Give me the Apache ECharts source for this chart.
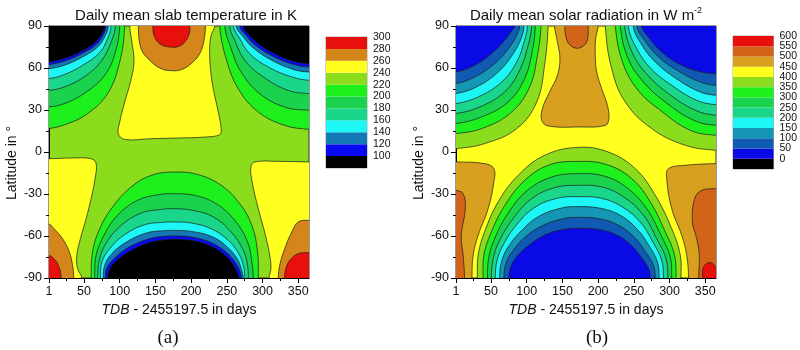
<!DOCTYPE html>
<html>
<head>
<meta charset="utf-8">
<script src="https://cdn.jsdelivr.net/npm/echarts@6/dist/echarts.min.js"></script>
<style>
html, body { margin: 0; padding: 0; background: #fff; }
#main { width: 800px; height: 350px; }
</style>
</head>
<body>
<div id="main"></div>
<script>
// axis ticks
var dayTicks = [1, 50, 100, 150, 200, 250, 300, 350];
var dayMinor = [25, 75, 125, 175, 225, 275, 325];

// (a) slab temperature in K: contour levels and fill colours (lowest band first)
var tempBounds = [100, 120, 140, 160, 180, 200, 220, 240, 260, 280, 300];
var tempColors = ['#000000', '#0a0af0', '#1478b4', '#1ef5f5', '#1ad68a', '#1ad24e', '#1ef01e', '#8cdc1e', '#ffff20', '#d4861a', '#e8100c'];

// contour lines, [day, latitude]; [level, line]
var tempColdNW = [
  [220, [[0,16.7],[27,20.2],[55,27.4],[83,41.7],[100,64.3],[107,90]]],
  [200, [[0,32.1],[22,34.5],[50,41.7],[79,54.8],[94,71.4],[100,90]]],
  [180, [[0,44],[22,46.4],[50,53.6],[74,64.8],[88,78.6],[94,90]]],
  [160, [[0,52.4],[22,55.2],[48,61.9],[72,71],[83,81],[88,90]]],
  [140, [[0,59.5],[22,61.9],[48,67.9],[69,75],[80,83.3],[84,90]]],
  [120, [[0,62.4],[22,64.8],[46,70],[67,76.7],[77,83.8],[81,90]]],
  [100, [[0,64.3],[22,66.7],[46,71.9],[65,78.1],[75,84.5],[79,90]]]
];
var tempColdNE = [
  [220, [[240,90],[249,66.7],[266,45.2],[294,28.6],[331,19],[365,16.2]]],
  [200, [[247,90],[256,73.8],[270,57.1],[296,41.7],[331,32.1],[365,29.8]]],
  [180, [[254,90],[262,78.6],[275,65.5],[301,53.6],[336,44],[365,41.7]]],
  [160, [[259,90],[268,81],[282,70.2],[308,60.7],[341,53.6],[365,51.2]]],
  [140, [[263,90],[272,82.9],[287,74.3],[313,65.5],[343,59],[365,57.1]]],
  [120, [[268,90],[277,83.3],[290,76.2],[315,68.3],[343,62.6],[365,60.7]]],
  [100, [[273,90],[281,83.8],[294,77.4],[317,70.2],[343,64.8],[365,63.1]]]
];
var tempColdS = [
  [220, [[60,-90],[62,-71.4],[72,-54.8],[90,-39.3],[116,-25],[144,-16.7],[177,-14.3],[210,-16.2],[242,-23.8],[268,-36.9],[285,-52.4],[293,-71.4],[294,-90]]],
  [200, [[65,-90],[67,-73.8],[78,-59.5],[97,-45.2],[125,-34.5],[154,-30.5],[177,-29.8],[205,-31],[235,-36.9],[261,-48.8],[279,-64.3],[285,-78.6],[287,-90]]],
  [180, [[69,-90],[72,-76.2],[82,-64.3],[102,-52.4],[130,-43.6],[158,-41],[177,-40.5],[203,-41.7],[231,-46.4],[256,-57.1],[273,-70.2],[279,-81],[280,-90]]],
  [160, [[73,-90],[75,-78.6],[86,-69],[107,-59],[135,-51.9],[161,-50.2],[177,-50],[200,-50.7],[228,-54.8],[252,-63.1],[268,-73.8],[274,-83.3],[275,-90]]],
  [140, [[77,-90],[79,-81],[89,-72.6],[111,-63.8],[139,-57.6],[163,-56.2],[177,-56],[200,-56.7],[228,-60.2],[249,-67.1],[265,-76.7],[271,-85.2],[273,-90]]],
  [120, [[80,-90],[82,-82.9],[93,-75.7],[115,-67.4],[142,-61.9],[163,-60.2],[177,-60],[200,-60.7],[226,-64.3],[247,-70.7],[262,-79],[269,-86.2],[270,-90]]],
  [100, [[83,-90],[86,-83.8],[96,-77.4],[118,-69.8],[144,-64.3],[165,-62.6],[177,-62.4],[200,-63.1],[225,-66.7],[245,-72.6],[259,-80.5],[265,-86.9],[267,-90]]]
];
var tempWarmN = [
  [240, [[114,90],[117,78.6],[120,64.3],[115,50],[107,35.7],[100,21.4],[98,13.1],[107,9],[144,9.5],[182,10],[219,10.7],[240,12.4],[242,16.7],[238,28.6],[231,45.2],[227,59.5],[226,73.8],[228,83.3],[233,90]]],
  [260, [[126,90],[130,73.8],[142,65.5],[158,59.5],[172,58.1],[186,58.8],[200,63.1],[212,70.2],[218,79.8],[220,90]]],
  [280, [[146.5,90],[148,83.3],[156,77.4],[170,75],[184,75.7],[193,79.8],[198,85.7],[198,90]]]
];
var tempWarmSW = [
  [240, [[0,-4.8],[32,-4.3],[60,-4.8],[67,-8.3],[65.5,-19],[60,-33.3],[53,-47.6],[45,-61.9],[40,-73.8],[41,-83.3],[47,-90]]],
  [260, [[0,-51.2],[8,-54.8],[20,-61.9],[29.5,-71.4],[34,-81],[35.6,-90]]],
  [280, [[0,-73.8],[8,-76.2],[15,-82.1],[18,-90]]]
];
var tempWarmSE = [
  [240, [[365,-7.1],[322,-6.7],[289,-7.1],[283.6,-10.7],[285.4,-21.4],[294,-40.5],[304,-59.5],[310,-73.8],[311.7,-83.3],[309,-90]]],
  [260, [[365,-48.8],[350,-50],[341,-57.1],[331,-69],[324,-81],[322,-90]]],
  [280, [[365,-71.9],[350,-72.6],[338,-77.4],[332,-84.5],[331,-90]]]
];

// (b) solar radiation in W m-2
var solarBounds = [0, 50, 100, 150, 200, 250, 300, 350, 400, 450, 500, 550, 600];
var solarColors = ['#000000', '#0a0ae6', '#105ab4', '#1496b4', '#1ef5f5', '#1ad68a', '#1ad24e', '#1ef01e', '#8cdc1e', '#ffff20', '#d8a01e', '#d2641a', '#e8100c'];

var solarColdNW = [
  [400, [[0,2.4],[41,6],[86,16.7],[114,35.7],[125,61.9],[130,90]]],
  [350, [[0,13.1],[39,17.1],[79,28.6],[104,46.4],[115,69],[120,90]]],
  [300, [[0,20.2],[36.5,25],[74,35.7],[97,52.4],[108,72.6],[112,90]]],
  [250, [[0,27.4],[34,32.1],[69,42.9],[90,58.3],[102,76.2],[107,90]]],
  [200, [[0,34.5],[32,39.3],[65,50],[86,64.3],[97,79.8],[101,90]]],
  [150, [[0,41.7],[29.5,46.4],[60,57.1],[81,70.2],[93,82.1],[96,90]]],
  [100, [[0,48.8],[27,53.6],[55,63.1],[76,75],[87,84.5],[90,90]]],
  [50, [[0,57.1],[27,61.9],[50.5,70.2],[69,79.8],[79.6,86.9],[83,90]]]
];
var solarColdNE = [
  [400, [[210,90],[219,59.5],[238,35.7],[275,16.7],[322,4.8],[365,1.2]]],
  [350, [[224,90],[235,63.1],[256,44],[287,29.8],[329,15.5],[365,11.9]]],
  [300, [[231,90],[242,66.7],[263.5,50],[294,35.7],[334,22.6],[365,19]]],
  [250, [[237,90],[248.5,70.2],[269.5,54.8],[298.5,41.7],[336,29.8],[365,26.2]]],
  [200, [[242,90],[254,73.8],[274,59.5],[303,47.6],[338,36.9],[365,33.8]]],
  [150, [[249,90],[260,77.4],[280,64.3],[308,52.9],[341,43.3],[365,40.5]]],
  [100, [[254,90],[265,79.8],[284.5,67.9],[313,57.6],[343,50],[365,47.6]]],
  [50, [[261,90],[270.5,82.1],[289,71.4],[317,61.9],[345,57.1],[365,56]]]
];
var solarColdS = [
  [400, [[31,-90],[32,-73.8],[41,-57.1],[60,-35.7],[88,-16.7],[125,-2.4],[172,3.3],[214,0],[252,-11.9],[280,-31],[303,-54.8],[315,-73.8],[316,-90]]],
  [350, [[39,-90],[40,-73.8],[49.6,-58.3],[68,-39.3],[95,-21.4],[130,-9.5],[172,-6.7],[212,-9],[247,-19],[273,-35.7],[294,-57.1],[307,-73.8],[309,-90]]],
  [300, [[45,-90],[47,-75],[56,-60.7],[75,-42.9],[101,-27.4],[135,-17.9],[172,-15.5],[210,-17.4],[242,-26.2],[268,-40.5],[288,-59.5],[301,-75],[303,-90]]],
  [250, [[50.5,-90],[53,-76.2],[62,-63.1],[81,-47.6],[107,-33.3],[139,-25.5],[172,-23.8],[207,-25.2],[238,-32.9],[263.5,-45.2],[282,-61.9],[295,-76.2],[297.6,-90]]],
  [200, [[56,-90],[58.5,-77.4],[68,-65.5],[87,-51.2],[112,-39.3],[144,-32.9],[172,-31.9],[205,-33.1],[234,-39.3],[259,-50],[276.6,-64.3],[289,-77.4],[291.5,-90]]],
  [150, [[62,-90],[64.6,-78.6],[74,-67.9],[93,-56],[118,-45.7],[149,-40],[172,-39],[203,-40.2],[231,-45.2],[254,-54.8],[271,-66.7],[283,-78.6],[285.4,-90]]],
  [100, [[68,-90],[70.7,-79.8],[80,-71],[98,-60.7],[123,-52.4],[151,-47.6],[172,-46.7],[200,-47.6],[227,-51.9],[249,-60],[266,-71],[277.5,-81],[280,-90]]],
  [50, [[75,-90],[77.7,-82.1],[87,-74.3],[106,-65.5],[130,-58.3],[156,-55],[172,-54.5],[198,-55.2],[224,-58.8],[245,-66],[260,-75],[270.5,-83.3],[273,-90]]]
];
var solarWarmN = [
  [450, [[139,90],[143,78.6],[146.5,66.7],[143,54.8],[132,42.9],[122,31],[121,22.6],[130,18.6],[172,17.9],[210,19],[215,23.8],[213,33.3],[205,45.2],[198,57.1],[196,69],[196.5,81],[200,90]]],
  [500, [[153.5,90],[154.4,83.3],[159,77.4],[167.5,74.3],[177,75],[184,78.6],[186,84.5],[186,90]]]
];
var solarWarmSW = [
  [450, [[0,-7.1],[41,-8.3],[54,-11.9],[54,-21.4],[46,-40.5],[32,-59.5],[25,-73.8],[23.4,-90]]],
  [500, [[0,-27.4],[11,-29.8],[14,-40.5],[8.4,-59.5],[11,-73.8],[13,-90]]]
];
var solarWarmSE = [
  [450, [[365,-8.3],[322,-9.5],[298.5,-11.9],[296,-19],[303,-40.5],[317,-59.5],[324,-73.8],[326.6,-90]]],
  [500, [[365,-26.2],[345,-27.4],[335,-33.3],[332,-50],[338,-61.9],[341.6,-73.8],[340.7,-90]]],
  [550, [[365,-83.3],[363,-81],[357,-79],[350,-80.5],[346.3,-84.5],[346.3,-90]]]
];

var FONT = 'Liberation Sans';

// extend a contour line past the plot edges so the filled region closes off-screen
function closeRegion(c, kind) {
  var a = c[0], b = c[c.length - 1];
  var L = -25, R = 390, T = 115, B = -115;
  if (kind === 'NW') return [[L, a[1]]].concat(c, [[b[0], T], [L, T]]);
  if (kind === 'NE') return [[a[0], T]].concat(c, [[R, b[1]], [R, T]]);
  if (kind === 'N') return [[a[0], T]].concat(c, [[b[0], T]]);
  if (kind === 'S') return [[a[0], B]].concat(c, [[b[0], B]]);
  if (kind === 'SW') return [[L, a[1]]].concat(c, [[b[0], B], [L, B]]);
  return [[R, a[1]]].concat(c, [[b[0], B], [R, B]]);
}

function buildRegions(bounds, colors, warm, cold) {
  var out = [];
  warm.forEach(function (g) {
    g[1].forEach(function (c) {
      out.push({ pts: closeRegion(c[1], g[0]), color: colors[bounds.indexOf(c[0]) + 1], mid: c[1][0] });
    });
  });
  cold.forEach(function (g) {
    g[1].forEach(function (c) {
      out.push({ pts: closeRegion(c[1], g[0]), color: colors[bounds.indexOf(c[0])], mid: c[1][0] });
    });
  });
  return out;
}

var tempRegions = buildRegions(tempBounds, tempColors,
  [['N', tempWarmN], ['SW', tempWarmSW], ['SE', tempWarmSE]],
  [['NW', tempColdNW], ['NE', tempColdNE], ['S', tempColdS]]);
var solarRegions = buildRegions(solarBounds, solarColors,
  [['N', solarWarmN], ['SW', solarWarmSW], ['SE', solarWarmSE]],
  [['NW', solarColdNW], ['NE', solarColdNE], ['S', solarColdS]]);

function contourSeries(regions, axisIndex) {
  return {
    type: 'custom',
    xAxisIndex: axisIndex,
    yAxisIndex: axisIndex,
    clip: true,
    silent: true,
    data: regions.map(function (r) { return r.mid; }),
    renderItem: function (params, api) {
      var r = regions[params.dataIndex];
      return {
        type: 'polygon',
        shape: { points: r.pts.map(function (p) { return api.coord(p); }), smooth: 0.4 },
        style: { fill: r.color, stroke: '#1a1a1a', lineWidth: 0.7 }
      };
    }
  };
}

function legendSeries(colors, xIndex, yIndex) {
  return {
    type: 'custom',
    xAxisIndex: xIndex,
    yAxisIndex: yIndex,
    silent: true,
    data: colors.map(function (c, i) { return [0.5, i + 0.5]; }),
    renderItem: function (params, api) {
      var i = params.dataIndex;
      var a = api.coord([0, i + 1]), b = api.coord([1, i]);
      return {
        type: 'rect',
        shape: { x: a[0], y: a[1], width: b[0] - a[0], height: b[1] - a[1] },
        style: { fill: colors[i] }
      };
    }
  };
}

function dayAxis(g) {
  return {
    gridIndex: g, type: 'value', min: 1, max: 365, position: 'bottom',
    name: '{i|TDB} - 2455197.5 in days', nameLocation: 'middle', nameGap: 17,
    nameTextStyle: { fontSize: 14, color: '#111', fontFamily: FONT,
      rich: { i: { fontStyle: 'italic', fontSize: 14, color: '#111', fontFamily: FONT } } },
    axisLine: { onZero: false, lineStyle: { color: '#000', width: 1 } },
    axisTick: { customValues: dayTicks, length: 5, lineStyle: { color: '#000' } },
    axisLabel: { customValues: dayTicks, margin: 7, fontSize: 12.5, color: '#111', fontFamily: FONT },
    splitLine: { show: false }
  };
}
function dayMinorAxis(g) {
  return {
    gridIndex: g, type: 'value', min: 1, max: 365, position: 'bottom',
    axisLine: { show: false, onZero: false },
    axisTick: { customValues: dayMinor, length: 3, lineStyle: { color: '#000' } },
    axisLabel: { show: false },
    splitLine: { show: false }
  };
}
function latAxis(g) {
  return {
    gridIndex: g, type: 'value', min: -90, max: 90, interval: 30,
    axisLine: { onZero: false, lineStyle: { color: '#000', width: 1 } },
    axisTick: { length: 5, lineStyle: { color: '#000' } },
    minorTick: { show: true, splitNumber: 2, length: 3, lineStyle: { color: '#000' } },
    axisLabel: { margin: 7, fontSize: 12.5, color: '#111', fontFamily: FONT },
    splitLine: { show: false }
  };
}
function hiddenLat(g) {
  return { gridIndex: g, type: 'value', min: -90, max: 90, show: false };
}
function legendX(g) {
  return { gridIndex: g, type: 'value', min: 0, max: 1, show: false };
}
// legend labels sit on box boundaries; odd and even ones go on two axes so none is dropped
function legendY(g, bounds, parity) {
  var vals = [];
  for (var k = 1; k <= bounds.length; k++) if (k % 2 === parity) vals.push(k);
  return {
    gridIndex: g, type: 'value', min: 0, max: bounds.length, position: 'right',
    axisLine: { show: false }, axisTick: { show: false }, splitLine: { show: false },
    axisLabel: {
      customValues: vals, margin: 6, fontSize: 10.5, color: '#111', fontFamily: FONT,
      formatter: function (v) { return String(bounds[v - 1]); }
    }
  };
}

function label(text, x, y, size, family, rotate) {
  return {
    type: 'text', x: x, y: y, rotation: rotate || 0, silent: true,
    style: {
      text: text, fill: '#111', fontSize: size, fontFamily: family,
      textAlign: 'center', align: 'center', textVerticalAlign: 'middle', verticalAlign: 'middle',
      rich: { s: { fontSize: 9, fontFamily: family, fill: '#111', verticalAlign: 'top', lineHeight: 20 } }
    }
  };
}

var myChart = echarts.init(document.getElementById('main'), null, { renderer: 'canvas' });

var option = {
  animation: false,
  backgroundColor: '#fff',
  grid: [
    { left: 49, top: 26, width: 260, height: 252, show: true, backgroundColor: tempColors[7], borderColor: '#333', borderWidth: 1 },
    { left: 456, top: 26, width: 260, height: 252, show: true, backgroundColor: solarColors[9], borderColor: '#333', borderWidth: 1 },
    { left: 326, top: 37, width: 41, height: 131, show: true, borderColor: '#aaa', borderWidth: 1 },
    { left: 733, top: 36, width: 42, height: 133, show: true, borderColor: '#aaa', borderWidth: 1 }
  ],
  xAxis: [dayAxis(0), dayMinorAxis(0), dayAxis(1), dayMinorAxis(1), legendX(2), legendX(3)],
  yAxis: [
    latAxis(0), hiddenLat(0), latAxis(1), hiddenLat(1),
    legendY(2, tempBounds, 1), legendY(2, tempBounds, 0),
    legendY(3, solarBounds, 1), legendY(3, solarBounds, 0)
  ],
  series: [
    contourSeries(tempRegions, 0),
    contourSeries(solarRegions, 2),
    legendSeries(tempColors, 4, 4),
    legendSeries(solarColors, 5, 6)
  ],
  graphic: [
    label('Daily mean slab temperature in K', 186, 16, 15, FONT),
    label('Daily mean solar radiation in W m{s|-2}', 586, 16, 15, FONT),
    label('Latitude in °', 12, 163, 14, FONT, Math.PI / 2),
    label('Latitude in °', 419, 163, 14, FONT, Math.PI / 2),
    label('(a)', 168, 338, 19, 'Liberation Serif'),
    label('(b)', 597, 338, 19, 'Liberation Serif')
  ]
};

myChart.setOption(option);
</script>
</body>
</html>
